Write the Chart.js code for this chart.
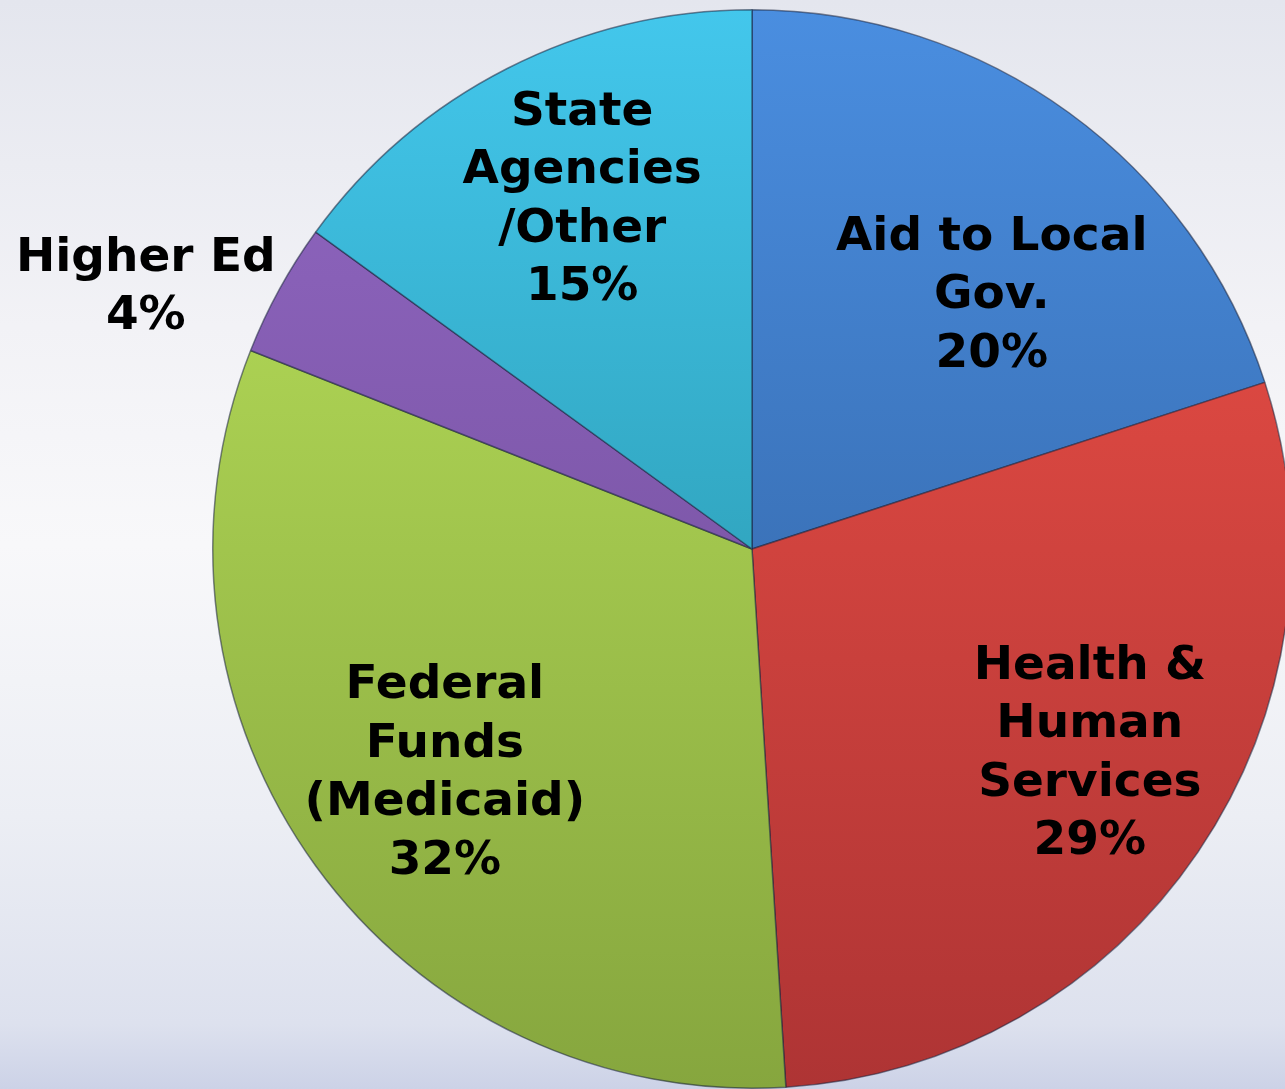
<!DOCTYPE html>
<html>
<head>
<meta charset="utf-8">
<script src="https://cdn.jsdelivr.net/npm/chart.js@4.4.1/dist/chart.umd.min.js"></script>
<style>
  html, body {
    margin: 0;
    padding: 0;
    width: 1285px;
    height: 1089px;
    overflow: hidden;
    background: linear-gradient(to bottom, #e4e6ee 0%, #f2f2f6 30%, #f8f8fa 50%, #eceef4 75%, #dde1ee 94%, #ccd2e7 100%);
  }
  #wrap {
    position: absolute;
    left: 0;
    top: 0;
    width: 1300px;
    height: 1100px;
  }
</style>
</head>
<body>
<div id="wrap"><canvas id="chartBudget"></canvas></div>
<script>
// Dados do gráfico
const categorias = ['Aid to Local Gov.', 'Health & Human Services', 'Federal Funds (Medicaid)', 'Higher Ed', 'State Agencies /Other'];
const valores = [20, 29, 32, 4, 15];
const linhasRotulo = [
  ['Aid to Local', 'Gov.'],
  ['Health &', 'Human', 'Services'],
  ['Federal', 'Funds', '(Medicaid)'],
  ['Higher Ed'],
  ['State', 'Agencies', '/Other']
];
// cores: topo claro -> base escura
const coresClaras = ['#4a8ee0', '#f25248', '#bce45c', '#9268c4', '#43c7ec'];
const coresEscuras = ['#2c5894', '#ae3434', '#86a63e', '#6a4890', '#208696'];
// posição do rótulo: fração do ângulo da fatia e fração do raio
const rotuloAngulo = [0.604, 0.472, 0.498, 0.118, 0.519];
const rotuloRaio = [0.646, 0.733, 0.706, 1.224, 0.719];

function gradienteFatia(context) {
  const chart = context.chart;
  const area = chart.chartArea;
  const i = context.dataIndex;
  if (!area) return coresClaras[i];
  const g = chart.ctx.createLinearGradient(0, area.top, 0, area.bottom);
  g.addColorStop(0, coresClaras[i]);
  g.addColorStop(1, coresEscuras[i]);
  return g;
}

// Plugin para desenhar os rótulos de cada fatia
const rotulosPlugin = {
  id: 'rotulos',
  afterDatasetsDraw(chart) {
    const ctx = chart.ctx;
    const meta = chart.getDatasetMeta(0);
    ctx.save();
    ctx.font = 'bold 47px "DejaVu Sans", Verdana, sans-serif';
    ctx.fillStyle = '#000';
    ctx.textAlign = 'center';
    ctx.textBaseline = 'middle';
    const alturaLinha = 58.5;
    meta.data.forEach((arc, i) => {
      const p = arc.getProps(['x', 'y', 'startAngle', 'endAngle', 'outerRadius'], true);
      const ang = p.startAngle + (p.endAngle - p.startAngle) * rotuloAngulo[i];
      const r = p.outerRadius * rotuloRaio[i];
      const cx = p.x + Math.cos(ang) * r;
      const cy = p.y + Math.sin(ang) * r;
      const linhas = linhasRotulo[i].concat([valores[i] + '%']);
      const y0 = cy - (linhas.length - 1) * alturaLinha / 2;
      linhas.forEach((txt, k) => ctx.fillText(txt, cx, y0 + k * alturaLinha));
    });
    ctx.restore();
  }
};

new Chart(document.getElementById('chartBudget').getContext('2d'), {
  type: 'pie',
  data: {
    labels: categorias,
    datasets: [{
      data: valores,
      backgroundColor: gradienteFatia,
      borderColor: 'rgba(25, 35, 60, 0.55)',
      borderWidth: 1.5
    }]
  },
  options: {
    responsive: true,
    maintainAspectRatio: false,
    animation: false,
    layout: { padding: { left: 212, top: 9, right: 8, bottom: 11 } },
    plugins: {
      legend: { display: false },
      tooltip: { enabled: false }
    }
  },
  plugins: [rotulosPlugin]
});
</script>
</body>
</html>
